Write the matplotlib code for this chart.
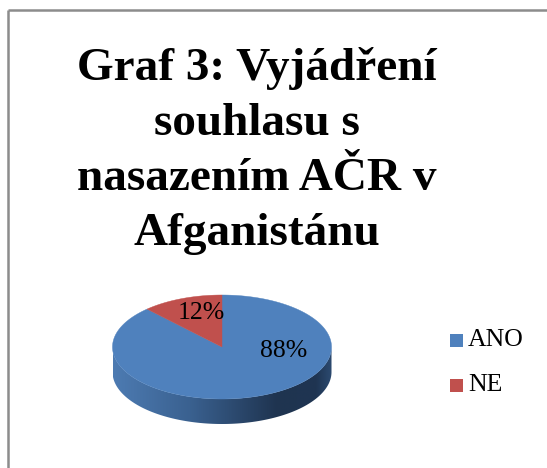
import numpy as np
import matplotlib
matplotlib.use("Agg")
import matplotlib.pyplot as plt
from matplotlib.patches import Polygon, Rectangle
from matplotlib.colors import LinearSegmentedColormap

# ---- data ----
title_lines = ["Graf 3: Vyjádření", "souhlasu s", "nasazením AČR v", "Afganistánu"]
categories = ["ANO", "NE"]
values = [88, 12]
pct_labels = ["88%", "12%"]

# ---- style / layout ----
colors = ["#4F81BD", "#C0504D"]
W, H = 547, 468
cx, cy, a, b, depth = 222.0, 347.0, 109.5, 52.0, 25.0
serif = "Liberation Serif"

fig = plt.figure(figsize=(W / 100, H / 100), dpi=100)
ax = fig.add_axes([0, 0, 1, 1])
ax.set_xlim(0, W)
ax.set_ylim(H, 0)
ax.axis("off")

# border (top and left)
ax.plot([8, W], [10, 10], color="#8c8c8c", lw=1.8, solid_capstyle="butt")
ax.plot([8, 8], [10, H], color="#8c8c8c", lw=1.8, solid_capstyle="butt")

# title
for i, line in enumerate(title_lines):
    ax.text(257, 80 + 55 * i, line, ha="center", va="baseline",
            fontsize=34, fontweight="bold", family=serif, color="black")

def pt(theta_deg, dy=0.0):
    t = np.radians(theta_deg)
    return cx + a * np.cos(t), cy - b * np.sin(t) + dy

# side (front half)
th = np.linspace(180, 360, 200)
top = np.array([pt(t) for t in th])
bot = np.array([pt(t, depth) for t in th[::-1]])
side_poly = Polygon(np.vstack([top, bot]), closed=True, facecolor="none", edgecolor="none")
ax.add_patch(side_poly)
cmap = LinearSegmentedColormap.from_list(
    "side", [(0.0, "#4d7bb2"), (0.35, "#3a6190"), (0.75, "#1f3450"), (0.93, "#1f3552"), (1.0, "#2c4a70")])
grad = np.linspace(0, 1, 256).reshape(1, -1)
im = ax.imshow(grad, cmap=cmap, extent=[cx - a, cx + a, cy + b + depth + 2, cy - 2],
               aspect="auto", interpolation="bilinear", zorder=1)
im.set_clip_path(side_poly)
ax.set_xlim(0, W)
ax.set_ylim(H, 0)

# top faces
total = float(sum(values))
start = 90.0
for v, c in zip(values, colors):
    sweep = 360.0 * v / total
    ts = np.linspace(start, start - sweep, 300)
    pts = [(cx, cy)] + [pt(t) for t in ts]
    ax.add_patch(Polygon(pts, closed=True, facecolor=c, edgecolor=c, lw=0.3, zorder=2))
    start -= sweep

# percentage labels
label_pos = [(284, 351), (201, 313)]
for (x, y), s in zip(label_pos, pct_labels):
    ax.text(x, y, s, ha="center", va="center", fontsize=18.5, family=serif, color="black", zorder=3)

# legend
leg_y = [340, 385]
for y, c, name in zip(leg_y, colors, categories):
    ax.add_patch(Rectangle((450, y - 6.5), 13, 13, facecolor=c, edgecolor="none"))
    ax.text(468, y, name, ha="left", va="center", fontsize=18.5, family=serif, color="black")

fig.savefig("out.png", dpi=100)
